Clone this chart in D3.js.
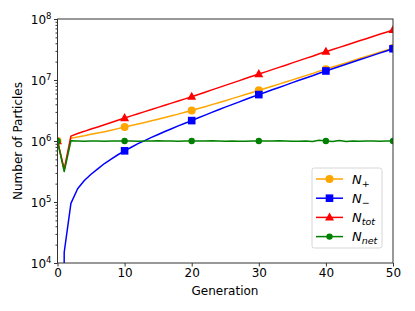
<!DOCTYPE html>
<html><head><meta charset="utf-8">
<script src="https://cdn.jsdelivr.net/npm/d3@7/dist/d3.min.js"></script>
<style>body{margin:0;background:#fff}svg{display:block;font-family:"DejaVu Sans",sans-serif}</style>
</head><body><svg id="c" width="415" height="311"></svg>
<script>
const generations = d3.range(0, 51);
const nPlus = [1.0e6,3.30e5,1.105e6,1.165e6,1.215e6,1.285e6,1.35e6,1.42e6,1.505e6,1.595e6,
 1.69e6,1.79e6,1.895e6,2.015e6,2.145e6,2.28e6,2.43e6,2.59e6,2.76e6,2.955e6,
 3.16e6,3.40e6,3.655e6,3.95e6,4.25e6,4.58e6,4.945e6,5.335e6,5.78e6,6.255e6,
 6.765e6,7.30e6,7.90e6,8.55e6,9.25e6,1.0045e7,1.09e7,1.18e7,1.274e7,1.3965e7,
 1.505e7,1.629e7,1.766e7,1.909e7,2.07e7,2.2445e7,2.43e7,2.63e7,2.855e7,3.09e7,3.355e7];
const nMinus = [0,1.5e4,9.5e4,1.65e5,2.25e5,2.85e5,3.5e5,4.275e5,5.05e5,5.95e5,
 6.9e5,7.9e5,9.05e5,1.015e6,1.145e6,1.2775e6,1.43e6,1.59e6,1.7675e6,1.955e6,
 2.16e6,2.40e6,2.655e6,2.9425e6,3.25e6,3.5875e6,3.945e6,4.345e6,4.7875e6,5.255e6,
 5.765e6,6.30e6,6.90e6,7.5475e6,8.25e6,9.055e6,9.9e6,1.08e7,1.176e7,1.2935e7,
 1.405e7,1.531e7,1.664e7,1.811e7,1.97e7,2.1455e7,2.33e7,2.53e7,2.7555e7,2.99e7,3.255e7];
const nTot = [1.0e6,3.45e5,1.20e6,1.33e6,1.44e6,1.57e6,1.70e6,1.85e6,2.01e6,2.19e6,
 2.38e6,2.58e6,2.80e6,3.03e6,3.29e6,3.56e6,3.86e6,4.18e6,4.53e6,4.91e6,
 5.32e6,5.80e6,6.31e6,6.89e6,7.50e6,8.17e6,8.89e6,9.68e6,1.057e7,1.151e7,
 1.253e7,1.36e7,1.48e7,1.61e7,1.75e7,1.91e7,2.08e7,2.26e7,2.45e7,2.69e7,
 2.91e7,3.16e7,3.43e7,3.72e7,4.04e7,4.39e7,4.76e7,5.16e7,5.61e7,6.08e7,6.61e7];
const nNet = [1.0e6,3.15e5,1.01e6,1.0e6,0.99e6,1.0e6,1.0e6,0.995e6,1.0e6,1.0e6,
 1.0e6,1.0e6,0.99e6,1.0e6,1.0e6,1.005e6,1.0e6,1.0e6,0.995e6,1.0e6,
 1.0e6,1.0e6,1.0e6,1.005e6,1.0e6,0.995e6,1.0e6,0.99e6,0.995e6,1.0e6,
 1.0e6,1.0e6,1.0e6,1.005e6,1.0e6,0.99e6,0.995e6,1.0e6,0.985e6,1.03e6,
 1.0e6,0.98e6,1.02e6,0.985e6,1.0e6,0.99e6,1.0e6,1.0e6,0.995e6,1.0e6,1.0e6];
const xTicks = [0,10,20,30,40,50];
const yExponents = [4,5,6,7,8];
const seriesNames = ["+", "\u2212", "tot", "net"];

const svg = d3.select("#c");
const L=57.5, R=393, T=19, B=263;
const x = d3.scaleLinear().domain([0,50]).range([L,R]);
const y = d3.scaleLog().domain([1e4,1e8]).range([B,T]);
const yv = v => v > 0 ? y(v) : y(1e-300 > 0 ? 1e-30 : 1);

const series = [
  {name:seriesNames[0], data:nPlus, color:"orange", marker:"circle", size:4},
  {name:seriesNames[1], data:nMinus, color:"#0000ff", marker:"square", size:3.8},
  {name:seriesNames[2], data:nTot, color:"#ff0000", marker:"triangle", size:4.5},
  {name:seriesNames[3], data:nNet, color:"#008000", marker:"circle", size:3.2}
];

svg.append("defs").append("clipPath").attr("id","clip")
  .append("rect").attr("x",L).attr("y",T).attr("width",R-L).attr("height",B-T);

function marker(g, type, cx, cy, s, color){
  if(type==="circle") g.append("circle").attr("cx",cx).attr("cy",cy).attr("r",s).attr("fill",color);
  else if(type==="square") g.append("rect").attr("x",cx-s).attr("y",cy-s).attr("width",2*s).attr("height",2*s).attr("fill",color);
  else g.append("path").attr("d",`M${cx},${cy-s*1.1}L${cx+s},${cy+s*0.7}L${cx-s},${cy+s*0.7}Z`).attr("fill",color);
}

const plot = svg.append("g").attr("clip-path","url(#clip)");
series.forEach(s=>{
  const line = d3.line().x((d,i)=>x(generations[i])).y(d=>yv(d));
  plot.append("path").datum(s.data).attr("d",line).attr("fill","none")
    .attr("stroke",s.color).attr("stroke-width",1.5).attr("stroke-linejoin","round");
  generations.forEach((g,i)=>{
    if(g%10===0 && s.data[i]>0) marker(plot, s.marker, x(g), y(s.data[i]), s.size, s.color);
  });
});

// axes
const yAxis = d3.axisLeft(y).tickValues(yExponents.map(e=>Math.pow(10,e))).tickSize(3.5).tickFormat("");
const ya = svg.append("g").attr("transform",`translate(${L},0)`).call(yAxis);
const minor=[];
for(let e=4;e<8;e++) for(let k=2;k<10;k++) minor.push(k*Math.pow(10,e));
svg.append("g").attr("transform",`translate(${L},0)`).call(d3.axisLeft(y).tickValues(minor).tickSize(2).tickFormat(""))
  .call(g=>g.select(".domain").remove());
yExponents.forEach(e=>{
  const t = svg.append("text").attr("x",L-6).attr("y",y(Math.pow(10,e))+4.5).attr("text-anchor","end")
    .attr("font-size",12).attr("fill","#000");
  t.append("tspan").text("10");
  t.append("tspan").attr("dy",-5).attr("font-size",8.5).text(e);
});
const xa = svg.append("g").attr("transform",`translate(0,${B})`)
  .call(d3.axisBottom(x).tickValues(xTicks).tickSize(3.5).tickPadding(2));
xa.selectAll("text").attr("font-size",12).attr("font-family","DejaVu Sans").attr("fill","#000");
[ya,xa].forEach(g=>{g.selectAll("line").attr("stroke","#000").attr("stroke-width",0.8);g.select(".domain").remove();});
svg.selectAll(".tick line").attr("stroke","#000").attr("stroke-width",0.8);
svg.append("rect").attr("x",L).attr("y",T).attr("width",R-L).attr("height",B-T)
  .attr("fill","none").attr("stroke","#333").attr("stroke-width",1);

svg.append("text").attr("x",225).attr("y",295).attr("text-anchor","middle").attr("font-size",12).text("Generation");
svg.append("text").attr("transform",`translate(22,${(T+B)/2}) rotate(-90)`).attr("text-anchor","middle")
  .attr("font-size",12).text("Number of Particles");

// legend
const lg = svg.append("g");
lg.append("rect").attr("x",312).attr("y",168).attr("width",70).attr("height",80).attr("rx",2.5)
  .attr("fill","#fff").attr("fill-opacity",0.8).attr("stroke","#ccc").attr("stroke-width",0.8);
series.forEach((s,i)=>{
  const yy = 179 + i*19.2;
  lg.append("line").attr("x1",316).attr("x2",343).attr("y1",yy).attr("y2",yy).attr("stroke",s.color).attr("stroke-width",1.5);
  marker(lg, s.marker, 329.5, yy, s.size, s.color);
  const t = lg.append("text").attr("x",352).attr("y",yy+4.5).attr("font-size",13).attr("font-style","italic");
  t.append("tspan").text("N");
  t.append("tspan").attr("dy",3).attr("font-size",9.5).text(s.name);
});
</script></body></html>
